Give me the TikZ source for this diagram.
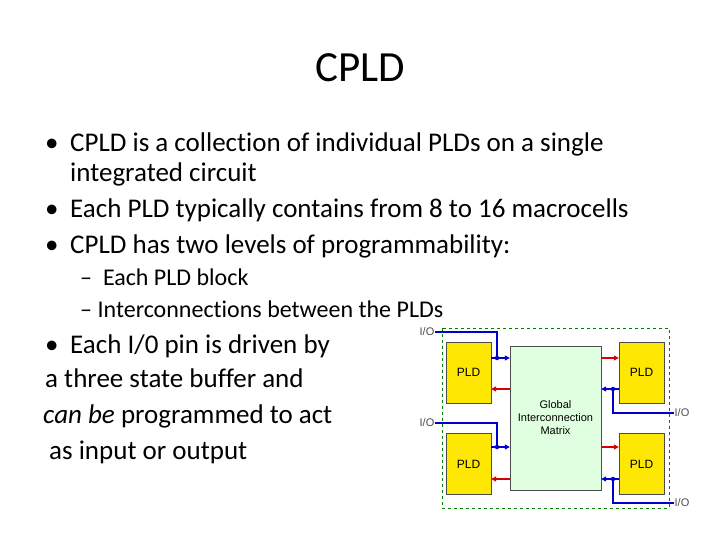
\documentclass[tikz,border=0pt]{standalone}
\usepackage{fontspec}
\setmainfont{Carlito}[RawFeature=-liga]
\newfontfamily\arial{Liberation Sans}
\usetikzlibrary{arrows.meta}
\begin{document}
\begin{tikzpicture}[x=1pt,y=-1pt,
  body/.style={anchor=base west,inner sep=0pt,font=\fontsize{27}{31}\selectfont},
  sub/.style={anchor=base west,inner sep=0pt,font=\fontsize{24}{28}\selectfont},
  pld/.style={draw=black!70,fill=yellow!90!orange,inner sep=0pt,font=\arial\fontsize{12}{13}\selectfont},
  io/.style={inner sep=0pt,font=\arial\fontsize{11}{12}\selectfont,text=black!70},
  bl/.style={draw=blue!80!black,line width=1.2pt},
  ba/.style={bl,-{Triangle[length=5pt,width=5pt]}},
  ra/.style={draw=red!85!black,line width=1.2pt,-{Triangle[length=5pt,width=5pt]}},
  dot/.style={circle,fill=blue!80!black,inner sep=0pt,minimum size=4.5pt}]
\useasboundingbox (0,0) rectangle (720,540);
\node[inner sep=0pt,font=\fontsize{43}{47}\selectfont] (title) at (360,68) {CPLD};
\node[body] (b1) at (45,152) {•};
\node[body] (t1) at (70,152) {CPLD is a collection of individual PLDs on a single};
\node[body] (t1b) at (70,182) {integrated circuit};
\node[body] (b2) at (45,218) {•};
\node[body] (t2) at (70,218) {Each PLD typically contains from 8 to 16 macrocells};
\node[body] (b3) at (45,254) {•};
\node[body] (t3) at (70,254) {CPLD has two levels of programmability:};
\node[sub] (s1) at (80,285) {–\ \ Each PLD block};
\node[sub] (s2) at (80,317) {–\ Interconnections between the PLDs};
\node[body] (b4) at (45,353) {•};
\node[body] (t4) at (70,353) {Each I/0 pin is driven by};
\node[body] (t5) at (45,387) {a three state buffer and};
\node[body] (t6) at (43,423) {\textit{can be} programmed to act};
\node[body] (t7) at (49,459) {as input or output};
% diagram
\draw[green!50!black,dashed,line width=0.8pt] (442,328) rectangle (669,508);
\node[draw=black!70,fill=green!12,minimum width=91pt,minimum height=144pt,inner sep=0pt,align=center,
  font=\arial\fontsize{11}{13}\selectfont] (gim) at (555.5,418) {Global\\Interconnection\\Matrix};
\node[pld,minimum width=45pt,minimum height=61pt] (p1) at (468.5,372.5) {PLD};
\node[pld,minimum width=45pt,minimum height=61pt] (p2) at (468.5,464) {PLD};
\node[pld,minimum width=45pt,minimum height=61pt] (p3) at (641.5,372.5) {PLD};
\node[pld,minimum width=45pt,minimum height=61pt] (p4) at (641.5,464) {PLD};
% left top
\node[io] (io1) at (427,332) {I/O};
\node[dot] (d1) at (497,358) {};
\draw[bl] (io1.east) -- (497,332) -- (d1);
\draw[ba] (p1.east |- d1) -- (gim.west |- d1);
\draw[ra] (gim.west |- 0,389) -- (p1.east |- 0,389);
% left bottom
\node[io] (io2) at (427,423) {I/O};
\node[dot] (d2) at (497,447) {};
\draw[bl] (io2.east) -- (497,423) -- (d2);
\draw[ba] (p2.east |- d2) -- (gim.west |- d2);
\draw[ra] (gim.west |- 0,479) -- (p2.east |- 0,479);
% right top
\draw[ra] (gim.east |- 0,358) -- (p3.west |- 0,358);
\node[dot] (d3) at (613,389) {};
\draw[ba] (p3.west |- d3) -- (gim.east |- d3);
\node[io] (io3) at (682,413) {I/O};
\draw[bl] (d3) -- (613,413) -- (io3.west);
% right bottom
\draw[ra] (gim.east |- 0,447) -- (p4.west |- 0,447);
\node[dot] (d4) at (613,479) {};
\draw[ba] (p4.west |- d4) -- (gim.east |- d4);
\node[io] (io4) at (682,503) {I/O};
\draw[bl] (d4) -- (613,503) -- (io4.west);
\end{tikzpicture}
\end{document}
